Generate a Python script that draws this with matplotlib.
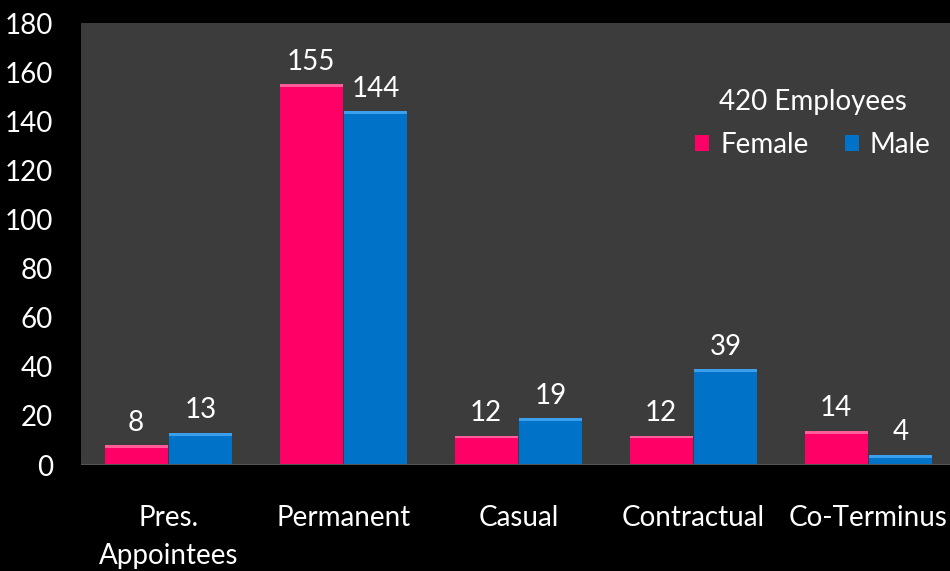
import numpy as np
import matplotlib
matplotlib.use('Agg')
import matplotlib.pyplot as plt

# data
categories = ['Pres.\nAppointees', 'Permanent', 'Casual', 'Contractual', 'Co-Terminus']
female = [8, 155, 12, 12, 14]
male = [13, 144, 19, 39, 4]

PINK = '#ff0066'
BLUE = '#0073c9'
PANEL = '#3c3c3c'
FS = 20

plt.rcParams['font.family'] = ['Lato', 'DejaVu Sans']

fig = plt.figure(figsize=(9.5, 5.71), dpi=100, facecolor='black')
ax = fig.add_axes([81 / 950, 1 - 465 / 571, 869 / 950, (465 - 23) / 571])
ax.set_facecolor(PANEL)

x = np.arange(len(categories))
w = 0.36
b1 = ax.bar(x - 0.185, female, w, color=PINK, label='Female', zorder=2)
b2 = ax.bar(x + 0.185, male, w, color=BLUE, label='Male', zorder=2)

# thin lighter strip on top of each bar, like the bevel in the original
for bars, col in ((b1, '#ff5c9a'), (b2, '#3aa0ee')):
    for r in bars:
        ax.bar(r.get_x() + r.get_width() / 2, 1.2, r.get_width(),
               bottom=r.get_height() - 1.2, color=col, zorder=3)

for bars in (b1, b2):
    ax.bar_label(bars, padding=7, color='white', fontsize=FS)

ax.set_xlim(-0.5, -0.5 + 869 / 175)
ax.set_ylim(0, 180)
ax.set_yticks(range(0, 181, 20))
ax.set_xticks(x)
ax.set_xticklabels(categories, linespacing=1.55)
ax.tick_params(axis='y', colors='white', labelsize=FS, length=0, pad=20)
ax.tick_params(axis='x', colors='white', labelsize=FS, length=0, pad=29)
for s in ax.spines.values():
    s.set_visible(False)
ax.axhline(0, color='#555555', lw=1.5, zorder=4)

leg = ax.legend(title='420 Employees', loc='upper right', bbox_to_anchor=(1.0, 0.895),
                ncol=2, frameon=False, fontsize=FS, title_fontsize=FS,
                handlelength=0.5, handleheight=0.5, handletextpad=0.4, columnspacing=1.3,
                borderpad=0.2)
for t in leg.get_texts():
    t.set_color('white')
leg.get_title().set_color('white')
leg._legend_box.sep = 12

fig.savefig('out.png', dpi=100, facecolor='black')
